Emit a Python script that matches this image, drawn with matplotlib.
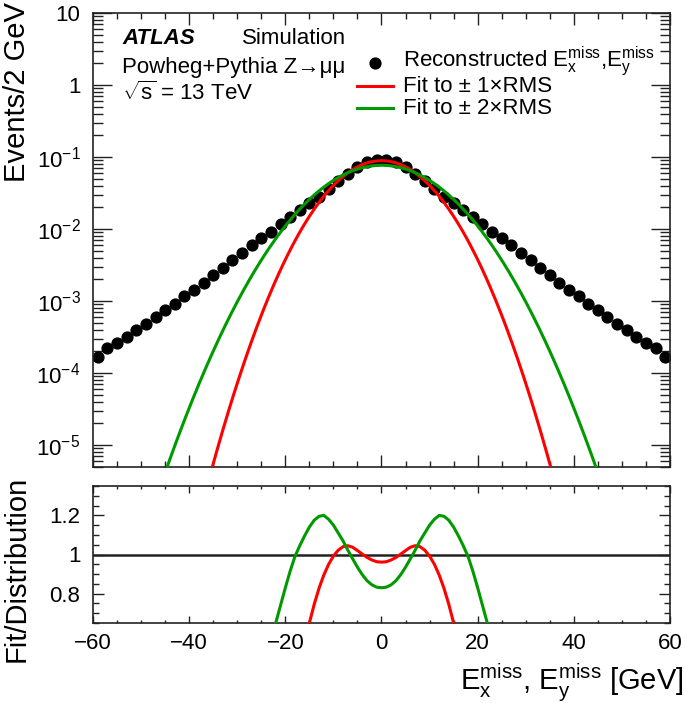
import numpy as np
import matplotlib
matplotlib.use('Agg')
import matplotlib.pyplot as plt
from matplotlib.ticker import MultipleLocator, LogLocator, NullFormatter, FuncFormatter, FixedLocator
from matplotlib.lines import Line2D

plt.rcParams['font.family'] = ['Liberation Sans', 'DejaVu Sans']
plt.rcParams['mathtext.fontset'] = 'custom'
plt.rcParams['mathtext.rm'] = 'Liberation Sans'
plt.rcParams['mathtext.it'] = 'Liberation Sans:italic'
plt.rcParams['mathtext.bf'] = 'Liberation Sans:bold'

# ---------------- data ----------------
bin_centers = np.arange(-59, 60, 2)
events = [0.000169, 0.000220, 0.000264, 0.000320, 0.000395, 0.000480, 0.000593, 0.000750,
          0.000908, 0.00117, 0.00142, 0.00180, 0.00232, 0.00290, 0.00371, 0.00469,
          0.00600, 0.00743, 0.00918, 0.0118, 0.0146, 0.0181, 0.0229, 0.0282,
          0.0359, 0.0458, 0.0577, 0.0715, 0.0840, 0.0916,
          0.0916, 0.0840, 0.0715, 0.0577, 0.0458, 0.0359, 0.0282, 0.0229,
          0.0181, 0.0146, 0.0118, 0.00918, 0.00743, 0.00600, 0.00469, 0.00371,
          0.00290, 0.00232, 0.00180, 0.00142, 0.00117, 0.000908, 0.000750, 0.000593,
          0.000480, 0.000395, 0.000320, 0.000264, 0.000220, 0.000169]

# Gaussian fit parameters
fit1_amp, fit1_mean, fit1_sigma = 0.0889, 0.0, 7.95    # fit to +-1xRMS
fit2_amp, fit2_mean, fit2_sigma = 0.0768, 0.0, 10.15   # fit to +-2xRMS

# ratio fit/distribution
ratio1_x = list(range(-16, 17))
ratio1 = [0.55, 0.650, 0.745, 0.827, 0.895, 0.950, 0.992, 1.022, 1.040, 1.045, 1.037, 1.020,
          1.002, 0.985, 0.972, 0.963, 0.961, 0.963, 0.972, 0.985, 1.002, 1.020, 1.037, 1.045,
          1.040, 1.022, 0.992, 0.950, 0.895, 0.827, 0.745, 0.650, 0.55]
ratio2_x = list(range(-23, 24))
ratio2 = [0.56, 0.650, 0.740, 0.830, 0.915, 0.990, 1.045, 1.095, 1.140, 1.175, 1.195, 1.200,
          1.180, 1.150, 1.110, 1.070, 1.022, 0.978, 0.935, 0.897, 0.866, 0.845, 0.833, 0.830,
          0.833, 0.845, 0.866, 0.897, 0.935, 0.978, 1.022, 1.070, 1.110, 1.150, 1.180, 1.200,
          1.195, 1.175, 1.140, 1.095, 1.045, 0.990, 0.915, 0.830, 0.740, 0.650, 0.56]

RED = '#ff0000'
GREEN = '#009a00'

W, H = 685, 703
fig = plt.figure(figsize=(W / 100, H / 100), dpi=100)

def px_axes(x0, y0, x1, y1):
    return fig.add_axes([x0 / W, 1 - y1 / H, (x1 - x0) / W, (y1 - y0) / H])

ax1 = px_axes(93, 13, 670, 467)
ax2 = px_axes(93, 486, 670, 623)

xf = np.linspace(-60, 60, 2401)
g1 = fit1_amp * np.exp(-0.5 * ((xf - fit1_mean) / fit1_sigma) ** 2)
g2 = fit2_amp * np.exp(-0.5 * ((xf - fit2_mean) / fit2_sigma) ** 2)

ax1.plot(bin_centers, events, 'o', color='black', ms=7.8, zorder=2)
ax1.plot(xf, g1, color=RED, lw=2.2, zorder=3)
ax1.plot(xf, g2, color=GREEN, lw=2.2, zorder=3)
ax1.set_yscale('log')
ax1.set_xlim(-60, 60)
ax1.set_ylim(4.95e-6, 10)

def logfmt(v, pos):
    if abs(v - 10) < 1e-9:
        return '10'
    if abs(v - 1) < 1e-9:
        return '1'
    e = int(round(np.log10(v)))
    return r'$10^{\mathregular{-%d}}$' % (-e) if e < 0 else ''

ax1.yaxis.set_major_locator(LogLocator(base=10, numticks=20))
ax1.yaxis.set_minor_locator(LogLocator(base=10, subs=np.arange(2, 10), numticks=20))
ax1.yaxis.set_major_formatter(FuncFormatter(logfmt))
ax1.yaxis.set_minor_formatter(NullFormatter())
ax1.xaxis.set_major_locator(MultipleLocator(20))
ax1.xaxis.set_minor_locator(MultipleLocator(5))
ax1.tick_params(axis='x', labelbottom=False)
ax1.tick_params(which='both', direction='in', top=True, right=True, width=1.0, color='#222222')
ax1.tick_params(axis='y', which='major', length=14, labelsize=16, pad=9)
ax1.tick_params(axis='y', which='minor', length=7)
ax1.tick_params(axis='x', which='major', length=8.5)
ax1.tick_params(axis='x', which='minor', length=4.3)

ax2.axhline(1.0, color='#222222', lw=1.8, zorder=1)
ax2.plot(ratio1_x, ratio1, color=RED, lw=2.2, zorder=3)
ax2.plot(ratio2_x, ratio2, color=GREEN, lw=2.2, zorder=3)
ax2.set_xlim(-60, 60)
ax2.set_ylim(0.65, 1.35)
ax2.yaxis.set_major_locator(FixedLocator([0.8, 1.0, 1.2]))
ax2.yaxis.set_minor_locator(MultipleLocator(0.05))
ax2.yaxis.set_major_formatter(FuncFormatter(lambda v, p: {0.8: '0.8', 1.0: '1', 1.2: '1.2'}.get(round(v, 2), '')))
ax2.yaxis.set_minor_formatter(NullFormatter())
ax2.xaxis.set_major_locator(MultipleLocator(20))
ax2.xaxis.set_minor_locator(MultipleLocator(5))
ax2.xaxis.set_major_formatter(FuncFormatter(lambda v, p: ('\u2212%d' % -v) if v < 0 else '%d' % v))
ax2.xaxis.set_minor_formatter(NullFormatter())
ax2.tick_params(which='both', direction='in', top=True, right=True, width=1.0, color='#222222')
ax2.tick_params(axis='y', which='major', length=8, labelsize=16, pad=9)
ax2.tick_params(axis='y', which='minor', length=4)
ax2.tick_params(axis='x', which='major', length=5, labelsize=16, pad=7)
ax2.tick_params(axis='x', which='minor', length=2.5)

for ax in (ax1, ax2):
    for s in ax.spines.values():
        s.set_linewidth(1.2)
        s.set_color('#222222')

def ftext(x, y, s, **kw):
    return fig.text(x / W, 1 - y / H, s, **kw)

# axis labels
ftext(17, 2, 'Events/2 GeV', rotation=90, ha='center', va='top', fontsize=21)
ftext(17, 476, 'Fit/Distribution', rotation=90, ha='center', va='top', fontsize=21)
ftext(683, 683, r'$\mathrm{E}_{\mathrm{x}}^{\mathrm{miss}}$, $\mathrm{E}_{\mathrm{y}}^{\mathrm{miss}}$ [GeV]',
      ha='right', va='center', fontsize=21)

# ATLAS labels
ftext(122, 38, 'ATLAS', fontsize=16, fontweight='bold', fontstyle='italic', ha='left', va='center')
ftext(242, 38, 'Simulation', fontsize=16, ha='left', va='center')
ftext(122, 67, 'Powheg+Pythia Z\u2192\u03bc\u03bc', fontsize=16, ha='left', va='center')
ftext(122, 93, r'$\sqrt{\mathrm{s}}$ = 13 TeV', fontsize=16, ha='left', va='center')

# legend (manual)
def axfrac(px, py):
    return (px - 93) / 577, (467 - py) / 454

lx, ly = axfrac(375, 63)
ax1.add_line(Line2D([lx], [ly], marker='o', color='black', ms=7.8, transform=ax1.transAxes))
for yy, col in ((86, RED), (108, GREEN)):
    a, b = axfrac(357, yy)
    c, _ = axfrac(393, yy)
    ax1.add_line(Line2D([a, c], [b, b], color=col, lw=2.2, transform=ax1.transAxes))
ftext(403, 61, r'Reconstructed $\mathrm{E}_{\mathrm{x}}^{\mathrm{miss}}$,$\mathrm{E}_{\mathrm{y}}^{\mathrm{miss}}$',
      fontsize=16, ha='left', va='center')
ftext(403, 87, 'Fit to \u00b1 1\u00d7RMS', fontsize=16, ha='left', va='center')
ftext(403, 109, 'Fit to \u00b1 2\u00d7RMS', fontsize=16, ha='left', va='center')

fig.savefig('out.png', dpi=100)
